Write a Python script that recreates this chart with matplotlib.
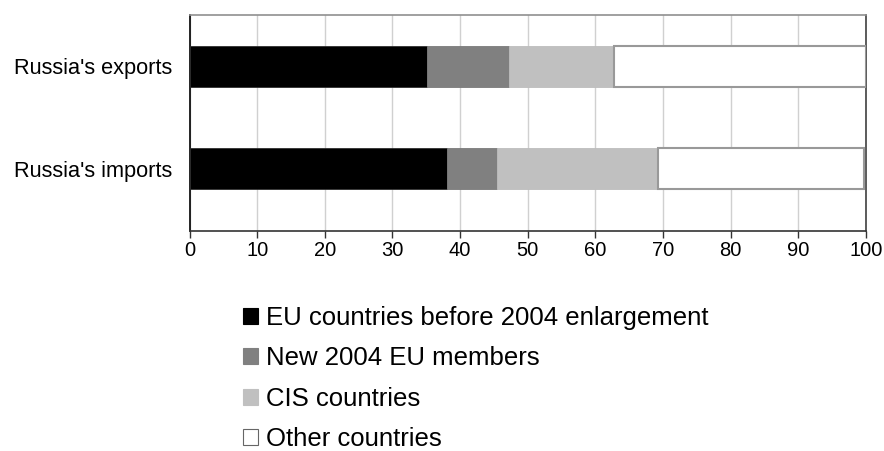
import matplotlib.pyplot as plt
from matplotlib.patches import Patch

categories = ["Russia's exports", "Russia's imports"]
series_names = ['EU countries before 2004 enlargement', 'New 2004 EU members',
                'CIS countries', 'Other countries']
eu_old = [35.1, 38.1]
eu_new = [12.2, 7.4]
cis = [15.4, 23.8]
other = [37.3, 30.4]
x_ticks = list(range(0, 101, 10))

plt.rcParams['font.family'] = ['Liberation Sans', 'DejaVu Sans']

fig = plt.figure(figsize=(8.84, 4.51), dpi=100)
ax = fig.add_axes([189.5/884, 1-231/451, (866-189.5)/884, (231-14.7)/451])

colors = ['#000000', '#808080', '#c0c0c0', '#ffffff']
edges = ['#303030', '#7a7a7a', '#bdbdbd', '#999999']
ypos = list(range(len(categories)))
left = [0.0] * len(categories)
for vals, c, ec in zip([eu_old, eu_new, cis, other], colors, edges):
    ax.barh(ypos, vals, left=left, height=0.40, color=c, edgecolor=ec,
            linewidth=1.5 if c == '#ffffff' else 0.6, zorder=3)
    left = [l + v for l, v in zip(left, vals)]

ax.set_xlim(0, 100)
ax.set_ylim(1.608, -0.504)
ax.set_xticks(x_ticks)
ax.set_xticklabels([str(t) for t in x_ticks], fontsize=14.5)
ax.set_yticks(ypos)
ax.set_yticklabels(categories, fontsize=15.7)
ax.tick_params(axis='y', length=0, pad=12.6)
ax.tick_params(axis='x', length=5, width=1, direction='out', pad=2, color='#333333')
ax.grid(axis='x', color='#d0d0d0', linewidth=1, zorder=0)
ax.set_axisbelow(True)

ax.spines['top'].set_color('#909090')
ax.spines['right'].set_color('#404040')
ax.spines['left'].set_color('#000000')
ax.spines['bottom'].set_color('#333333')
for s in ax.spines.values():
    s.set_linewidth(1.2)

handles = [Patch(facecolor=c, edgecolor=('#666666' if c == '#ffffff' else c), linewidth=0.8)
           for c in colors]
fig.legend(handles, series_names, loc='upper left', bbox_to_anchor=(243/884, 1-306/451),
           bbox_transform=fig.transFigure, frameon=False, fontsize=18.5,
           handlelength=0.58, handleheight=0.58, handletextpad=0.33,
           labelspacing=0.64, borderpad=0, borderaxespad=0)

fig.savefig('out.png', dpi=100)
